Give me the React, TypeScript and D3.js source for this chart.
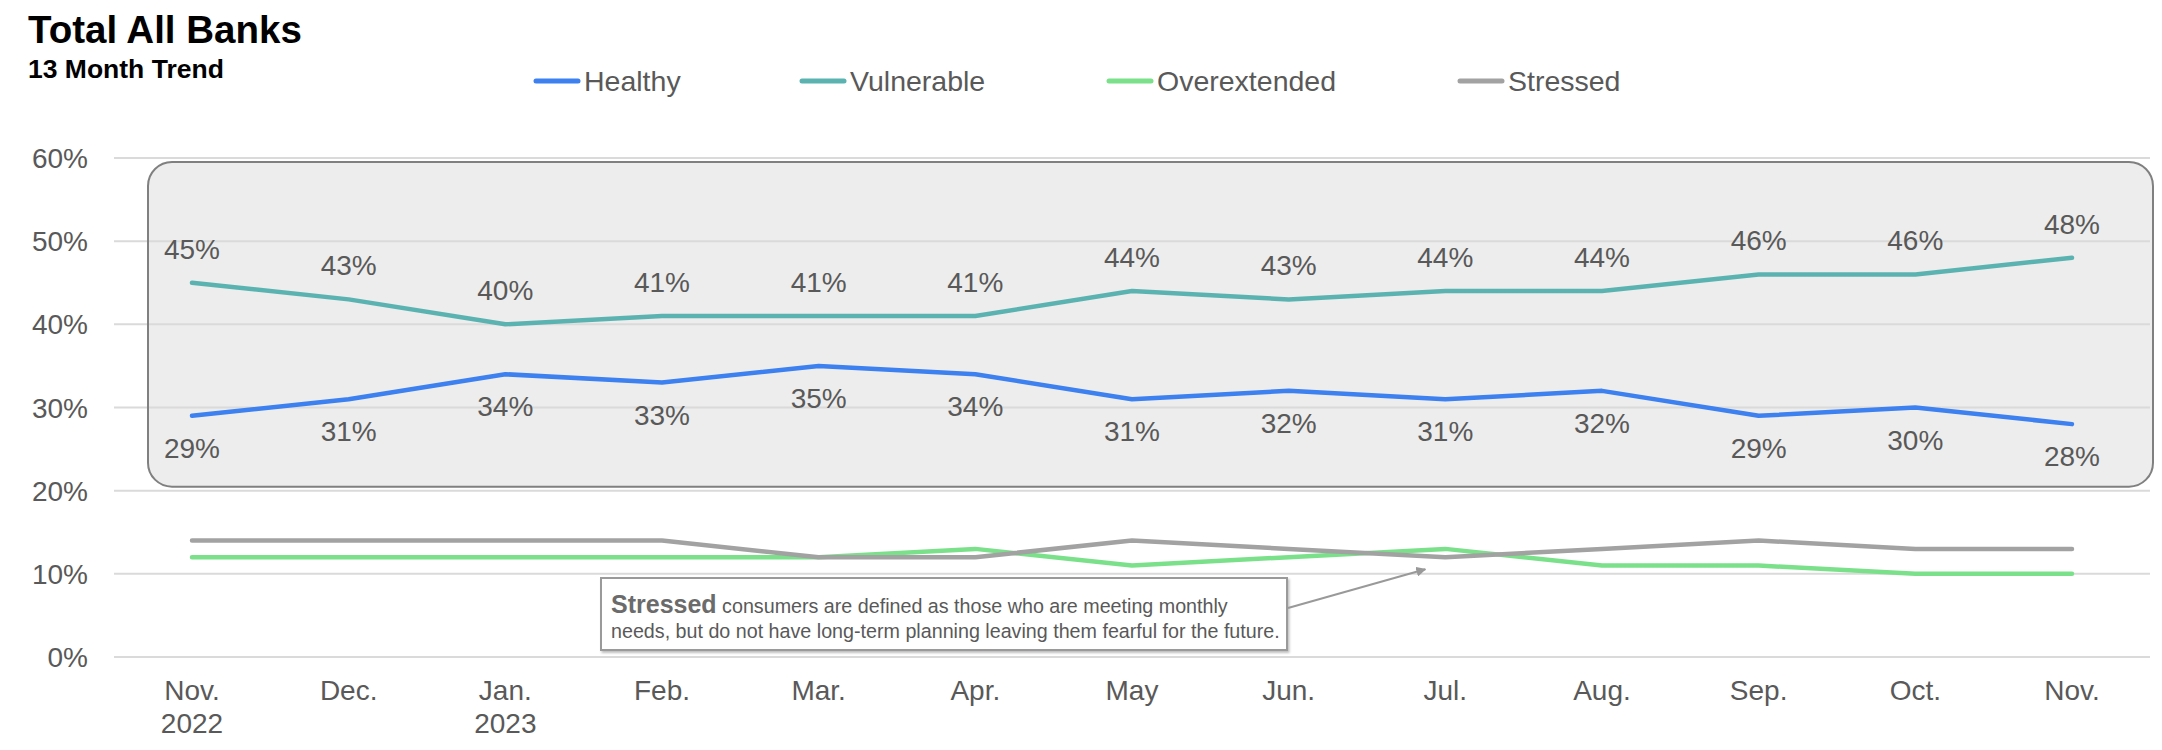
import React, { useEffect, useRef } from "react";
import * as d3 from "d3";

// chart values
const months = ["Nov.", "Dec.", "Jan.", "Feb.", "Mar.", "Apr.", "May", "Jun.", "Jul.", "Aug.", "Sep.", "Oct.", "Nov."];
const years = ["2022", "", "2023", "", "", "", "", "", "", "", "", "", ""];
const healthy = [29, 31, 34, 33, 35, 34, 31, 32, 31, 32, 29, 30, 28];
const vulnerable = [45, 43, 40, 41, 41, 41, 44, 43, 44, 44, 46, 46, 48];
const overextended = [12, 12, 12, 12, 12, 13, 11, 12, 13, 11, 11, 10, 10];
const stressed = [14, 14, 14, 14, 12, 12, 14, 13, 12, 13, 14, 13, 13];
const yTicks = [0, 10, 20, 30, 40, 50, 60];

const seriesNames = ["Healthy", "Vulnerable", "Overextended", "Stressed"];
const seriesColors = ["#3d80ef", "#5bb3b1", "#7be08a", "#a2a2a2"];

const W = 2162;
const H = 750;
const FONT = "'Liberation Sans', Arial, Helvetica, sans-serif";
const TEXT = "#595959";

export default function App() {
  const svgRef = useRef<SVGSVGElement | null>(null);

  useEffect(() => {
    if (!svgRef.current) return;
    const svg = d3.select(svgRef.current);
    svg.selectAll("*").remove();

    const x = d3
      .scalePoint<number>()
      .domain(d3.range(months.length))
      .range([192, 2072]);
    const y = d3.scaleLinear().domain([0, 60]).range([657, 158]);

    // title block
    svg
      .append("text")
      .attr("x", 28)
      .attr("y", 43)
      .attr("font-size", 38.5)
      .attr("font-weight", "bold")
      .attr("fill", "#000")
      .text("Total All Banks");
    svg
      .append("text")
      .attr("x", 28)
      .attr("y", 78)
      .attr("font-size", 26.5)
      .attr("font-weight", "bold")
      .attr("fill", "#000")
      .text("13 Month Trend");

    // legend
    const legendX = [534, 800, 1107, 1458];
    const legend = svg
      .append("g")
      .selectAll("g")
      .data(seriesNames)
      .enter()
      .append("g")
      .attr("transform", (_, i) => `translate(${legendX[i]},81)`);
    legend
      .append("line")
      .attr("x1", 2)
      .attr("x2", 44)
      .attr("stroke", (_, i) => seriesColors[i])
      .attr("stroke-width", 5)
      .attr("stroke-linecap", "round");
    legend
      .append("text")
      .attr("x", 50)
      .attr("y", 9.5)
      .attr("font-size", 28.5)
      .attr("fill", TEXT)
      .text((d) => d);

    // shaded box behind healthy / vulnerable
    const boxY = y(60) + 4;
    const boxH = y(20) - 4 - boxY;
    svg
      .append("rect")
      .attr("x", 148)
      .attr("y", boxY)
      .attr("width", 2153 - 148)
      .attr("height", boxH)
      .attr("rx", 24)
      .attr("fill", "#ededed");

    // gridlines
    svg
      .append("g")
      .selectAll("line")
      .data(yTicks)
      .enter()
      .append("line")
      .attr("x1", 114)
      .attr("x2", 2150)
      .attr("y1", (d) => y(d))
      .attr("y2", (d) => y(d))
      .attr("stroke", "#dadada")
      .attr("stroke-width", 2);

    svg
      .append("rect")
      .attr("x", 148)
      .attr("y", boxY)
      .attr("width", 2153 - 148)
      .attr("height", boxH)
      .attr("rx", 24)
      .attr("fill", "none")
      .attr("stroke", "#808080")
      .attr("stroke-width", 2);

    // y axis labels
    svg
      .append("g")
      .selectAll("text")
      .data(yTicks)
      .enter()
      .append("text")
      .attr("x", 88)
      .attr("y", (d) => y(d) + 10)
      .attr("text-anchor", "end")
      .attr("font-size", 28)
      .attr("fill", TEXT)
      .text((d) => `${d}%`);

    // x axis labels
    const xl = svg
      .append("g")
      .selectAll("text")
      .data(months)
      .enter()
      .append("text")
      .attr("x", (_, i) => x(i)!)
      .attr("y", 700)
      .attr("text-anchor", "middle")
      .attr("font-size", 28)
      .attr("fill", TEXT);
    xl.append("tspan").text((d) => d);
    xl.append("tspan")
      .attr("x", (_, i) => x(i)!)
      .attr("dy", 33)
      .text((_, i) => years[i]);

    // lines
    const line = d3
      .line<number>()
      .x((_, i) => x(i)!)
      .y((d) => y(d));
    const all = [healthy, vulnerable, overextended, stressed];
    [2, 3, 0, 1].forEach((k) => {
      svg
        .append("path")
        .datum(all[k])
        .attr("d", line)
        .attr("fill", "none")
        .attr("stroke", seriesColors[k])
        .attr("stroke-width", 4.5)
        .attr("stroke-linecap", "round")
        .attr("stroke-linejoin", "round");
    });

    // data labels
    svg
      .append("g")
      .selectAll("text")
      .data(vulnerable)
      .enter()
      .append("text")
      .attr("x", (_, i) => x(i)!)
      .attr("y", (d) => y(d) - 24)
      .attr("text-anchor", "middle")
      .attr("font-size", 28)
      .attr("fill", TEXT)
      .text((d) => `${d}%`);
    svg
      .append("g")
      .selectAll("text")
      .data(healthy)
      .enter()
      .append("text")
      .attr("x", (_, i) => x(i)!)
      .attr("y", (d) => y(d) + 42)
      .attr("text-anchor", "middle")
      .attr("font-size", 28)
      .attr("fill", TEXT)
      .text((d) => `${d}%`);

    // annotation
    const defs = svg.append("defs");
    defs
      .append("marker")
      .attr("id", "arrow")
      .attr("viewBox", "0 0 10 10")
      .attr("refX", 9)
      .attr("refY", 5)
      .attr("markerWidth", 5)
      .attr("markerHeight", 5)
      .attr("orient", "auto")
      .append("path")
      .attr("d", "M0,0L10,5L0,10z")
      .attr("fill", "#999");
    const filter = defs.append("filter").attr("id", "shadow");
    filter
      .append("feDropShadow")
      .attr("dx", 1.5)
      .attr("dy", 2)
      .attr("stdDeviation", 1)
      .attr("flood-color", "#000")
      .attr("flood-opacity", 0.25);

    svg
      .append("rect")
      .attr("x", 601)
      .attr("y", 578)
      .attr("width", 686)
      .attr("height", 72)
      .attr("fill", "#fff")
      .attr("stroke", "#9a9a9a")
      .attr("stroke-width", 2)
      .attr("filter", "url(#shadow)");
    const note = svg
      .append("text")
      .attr("x", 611)
      .attr("y", 613)
      .attr("font-size", 19.7)
      .attr("fill", TEXT);
    note
      .append("tspan")
      .attr("font-weight", "bold")
      .attr("font-size", 25)
      .attr("fill", "#6b6b6b")
      .text("Stressed");
    note.append("tspan").text(" consumers are defined as those who are meeting monthly");
    svg
      .append("text")
      .attr("x", 611)
      .attr("y", 638)
      .attr("font-size", 19.7)
      .attr("fill", TEXT)
      .text("needs, but do not have long-term planning leaving them fearful for the future.");

    svg
      .append("line")
      .attr("x1", 1288)
      .attr("y1", 608)
      .attr("x2", x(8)! - 20)
      .attr("y2", y(stressed[8]) + 12)
      .attr("stroke", "#999")
      .attr("stroke-width", 2)
      .attr("marker-end", "url(#arrow)");
  }, []);

  return (
    <svg
      ref={svgRef}
      width={W}
      height={H}
      style={{ position: "absolute", left: 0, top: 0, fontFamily: FONT, background: "#fff" }}
    />
  );
}
